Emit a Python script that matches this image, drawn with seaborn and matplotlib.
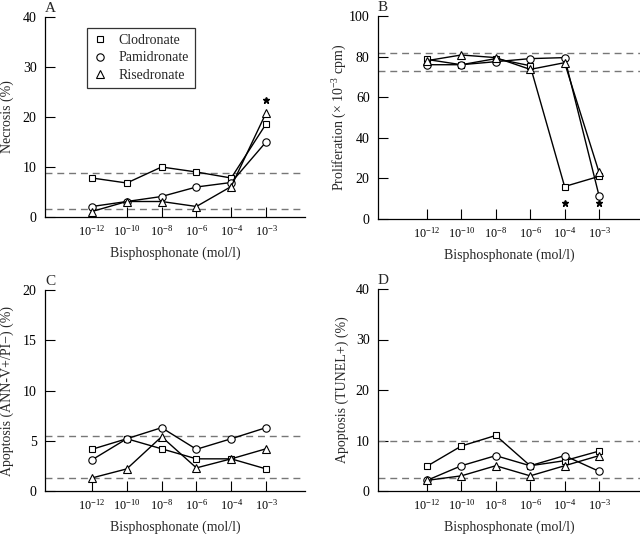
import matplotlib
matplotlib.use("Agg")
import matplotlib.pyplot as plt
import seaborn as sns
import pandas as pd
from matplotlib.lines import Line2D

sns.set_theme(style="ticks")
plt.rcParams["font.family"] = ["Liberation Serif", "DejaVu Serif"]
plt.rcParams["mathtext.fontset"] = "custom"
plt.rcParams["mathtext.rm"] = "Liberation Serif"
plt.rcParams["mathtext.it"] = "Liberation Serif:italic"

# ---- data ----
concentrations = ["10$^{-12}$", "10$^{-10}$", "10$^{-8}$", "10$^{-6}$", "10$^{-4}$", "10$^{-3}$"]
drugs = ["Clodronate", "Pamidronate", "Risedronate"]

necrosis_clod = [7.8, 6.8, 10.0, 9.0, 7.8, 18.6]
necrosis_pam = [2.1, 3.1, 4.1, 6.0, 6.9, 15.0]
necrosis_ris = [1.1, 3.1, 3.1, 2.1, 6.1, 20.8]
necrosis_ref = [8.8, 1.7]
necrosis_star = [5]

prolif_clod = [78.6, 76.0, 79.0, 75.5, 16.0, 21.0]
prolif_pam = [76.0, 76.0, 77.5, 79.0, 79.5, 11.5]
prolif_ris = [78.0, 80.8, 79.5, 73.7, 77.0, 23.0]
prolif_ref = [82.0, 73.0]
prolif_star = [4, 5]

annv_clod = [4.15, 5.2, 4.2, 3.2, 3.2, 2.2]
annv_pam = [3.1, 5.2, 6.3, 4.15, 5.2, 6.3]
annv_ris = [1.3, 2.2, 5.4, 2.3, 3.2, 4.2]
annv_ref = [5.5, 1.3]

tunel_clod = [4.9, 8.9, 11.0, 5.0, 6.0, 7.9]
tunel_pam = [2.1, 5.0, 7.0, 5.0, 7.0, 3.9]
tunel_ris = [2.1, 3.0, 5.0, 3.0, 5.0, 7.0]
tunel_ref = [9.9, 2.6]

markers = {"Clodronate": "s", "Pamidronate": "o", "Risedronate": "^"}
msizes = {"Clodronate": 4.8, "Pamidronate": 5.3, "Risedronate": 5.6}

panels = [
    dict(letter="A", series=[necrosis_clod, necrosis_pam, necrosis_ris], ref=necrosis_ref,
         ylabel="Necrosis (%)", ylim=(0, 40), yticks=[0, 10, 20, 30, 40],
         stars=necrosis_star, star_y=23.4, ylab_x=-0.118,
         rect=[45 / 640, 1 - 217 / 534, 260 / 640, 200 / 534], xlim=(-1.35, 6.12), legend=True),
    dict(letter="B", series=[prolif_clod, prolif_pam, prolif_ris], ref=prolif_ref,
         ylabel="Proliferation (\u00d7 10$^{-3}$ cpm)", ylim=(0, 100), yticks=[0, 20, 40, 60, 80, 100],
         stars=prolif_star, star_y=8, ylab_x=-0.11,
         rect=[378 / 640, 1 - 219 / 534, 262 / 640, 203 / 534], xlim=(-1.42, 6.19), legend=False),
    dict(letter="C", series=[annv_clod, annv_pam, annv_ris], ref=annv_ref,
         ylabel="Apoptosis (ANN-V+/PI\u2212) (%)", ylim=(0, 20), yticks=[0, 5, 10, 15, 20],
         stars=[], star_y=0, ylab_x=-0.118,
         rect=[45 / 640, 1 - 491 / 534, 260 / 640, 201 / 534], xlim=(-1.35, 6.12), legend=False),
    dict(letter="D", series=[tunel_clod, tunel_pam, tunel_ris], ref=tunel_ref,
         ylabel="Apoptosis (TUNEL+) (%)", ylim=(0, 40), yticks=[0, 10, 20, 30, 40],
         stars=[], star_y=0, ylab_x=-0.11,
         rect=[378 / 640, 1 - 491 / 534, 262 / 640, 202 / 534], xlim=(-1.42, 6.19), legend=False),
]

fig = plt.figure(figsize=(6.4, 5.34), dpi=100)

for p in panels:
    ax = fig.add_axes(p["rect"])
    for yv in p["ref"]:
        ax.axhline(yv, color="#777777", lw=1.0, ls=(0, (5, 3.5)), zorder=1)
    for name, vals in zip(drugs, p["series"]):
        df = pd.DataFrame({"x": range(len(concentrations)), "y": vals})
        sns.lineplot(data=df, x="x", y="y", ax=ax, color="black", lw=1.0,
                     marker=markers[name], markersize=msizes[name],
                     markerfacecolor="white", markeredgecolor="black", markeredgewidth=0.8,
                     zorder=3)
    for s in p["stars"]:
        ax.plot([s], [p["star_y"]], marker="*", color="black", ms=4.5, ls="none", zorder=4)
    ax.set_xlim(*p["xlim"])
    ax.set_ylim(*p["ylim"])
    ax.set_xticks(range(len(concentrations)))
    ax.set_xticklabels(concentrations)
    ax.set_yticks(p["yticks"])
    ax.set_xlabel("Bisphosphonate (mol/l)", fontsize=10, labelpad=6)
    ax.set_ylabel(p["ylabel"], fontsize=10)
    ax.yaxis.set_label_coords(p["ylab_x"], 0.5)
    ax.tick_params(direction="in", length=7.5, width=0.8, pad=6, colors="black")
    ax.tick_params(axis="y", labelsize=10)
    ax.tick_params(axis="x", labelsize=8.7, pad=5)
    sns.despine(ax=ax)
    for sp in ["left", "bottom"]:
        ax.spines[sp].set_linewidth(0.9)
        ax.spines[sp].set_color("black")
    ax.patch.set_alpha(0)
    ax.text(0.0, 1.01, p["letter"], transform=ax.transAxes, fontsize=11,
            ha="left", va="bottom")
    if p["legend"]:
        handles = [Line2D([], [], ls="none", marker=markers[d], mfc="white", mec="black",
                          mew=0.8, ms=msizes[d], color="black") for d in drugs]
        leg = ax.legend(handles, drugs, loc="upper left", bbox_to_anchor=(0.162, 0.945),
                        borderaxespad=0, frameon=True, fancybox=False, edgecolor="black",
                        fontsize=10, handlelength=1.0, handletextpad=0.8, borderpad=0.45,
                        labelspacing=0.3)
        leg.get_frame().set_linewidth(0.9)

fig.savefig("out.png", dpi=100)
